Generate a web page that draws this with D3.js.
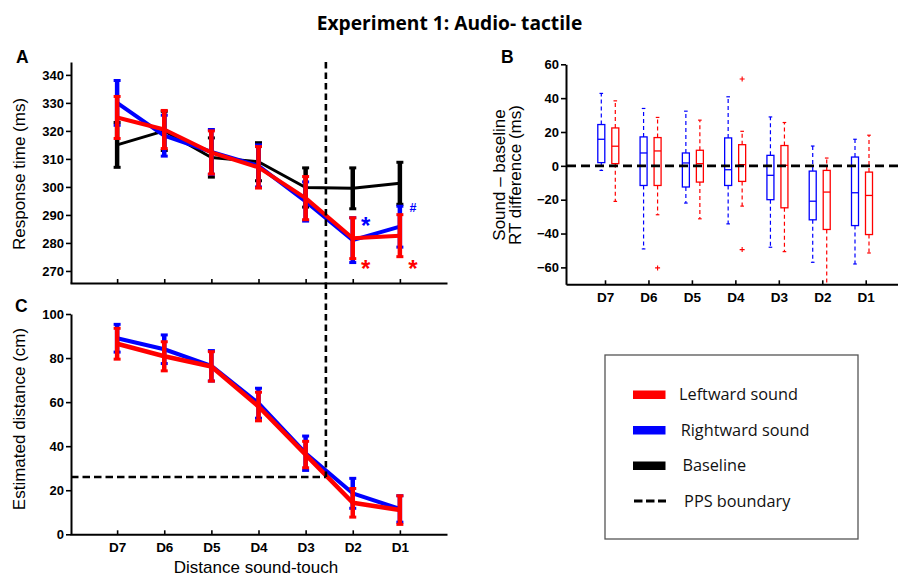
<!DOCTYPE html>
<html><head><meta charset="utf-8">
<script src="https://cdn.jsdelivr.net/npm/d3@7"></script>
<style>body{margin:0;background:#fff}</style>
</head><body>
<svg id="chart" width="898" height="576"></svg>
<script>
// ---------- DATA ----------
const categories = ["D7","D6","D5","D4","D3","D2","D1"];

// Panel A: response time (ms), mean and error
const rtLeft      = [324.8, 320.5, 312.3, 307.0, 296.0, 281.7, 282.6];
const rtLeftErr   = [7.5, 6.8, 7.7, 7.4, 7.7, 7.3, 7.5];
const rtRight     = [330.0, 318.3, 312.5, 307.5, 294.8, 281.0, 285.8];
const rtRightErr  = [8.0, 7.3, 8.0, 7.5, 7.0, 8.0, 7.3];
const rtBase      = [315.0, 320.0, 310.5, 309.0, 299.8, 299.5, 301.3];
const rtBaseErr   = [8.0, 7.0, 7.0, 6.8, 7.0, 7.3, 7.5];
const rtTicks     = [270, 280, 290, 300, 310, 320, 330, 340];
const annotations = [
  {cat: "D2", label: "*", color: "#0000ff", at: 288.0},
  {cat: "D2", label: "*", color: "#ff0000", at: 272.5},
  {cat: "D1", label: "#", color: "#0000ff", at: 292.5},
  {cat: "D1", label: "*", color: "#ff0000", at: 272.8}
];

// Panel C: estimated distance (cm)
const distLeft     = [86.5, 80.8, 76.2, 58.0, 36.2, 14.3, 11.0];
const distLeftErr  = [7.0, 6.6, 6.7, 6.5, 6.0, 6.5, 6.5];
const distRight    = [89.0, 84.0, 76.5, 59.5, 36.8, 18.6, 11.5];
const distRightErr = [6.3, 6.5, 6.9, 6.8, 7.8, 6.8, 6.0];
const distTicks    = [0, 20, 40, 60, 80, 100];
const ppsDistance  = 26;     // cm, horizontal PPS boundary
const ppsPosition  = 5.43;   // category-axis position of PPS boundary (between D3 and D2)

// Panel B: box plots (sound - baseline), [lowWhisker, q1, median, q3, highWhisker]
const boxRight = [
  [-2.7, 1.9, 15.7, 24.4, 42.8],
  [-49.1, -11.6, 7.6, 17.1, 33.9],
  [-22.0, -12.5, 1.7, 7.6, 32.3],
  [-34.3, -11.6, -2.3, 16.5, 40.8],
  [-48.1, -20.0, -5.6, 6.2, 28.9],
  [-57.0, -31.9, -20.9, -3.1, 11.7],
  [-58.0, -35.3, -15.9, 5.2, 15.7]
];
const boxLeft = [
  [-21.0, 1.3, 11.6, 22.4, 38.4],
  [-28.9, -11.6, 8.8, 16.7, 28.6],
  [-31.3, -9.6, 1.3, 9.2, 27.0],
  [-23.8, -9.2, 0.7, 12.5, 20.4],
  [-50.7, -24.8, 0.3, 12.0, 25.6],
  [-75.0, -37.6, -15.5, -2.7, 4.6],
  [-51.5, -40.6, -17.5, -3.7, 18.1]
];
const outliersLeft = [
  {cat: "D6", v: -60.3},
  {cat: "D4", v: 51.3},
  {cat: "D4", v: -49.5}
];
const diffTicks = [-60, -40, -20, 0, 20, 40, 60];

const legendItems = [
  {label: "Leftward sound", color: "#ff0000", type: "bar"},
  {label: "Rightward sound", color: "#0000ff", type: "bar"},
  {label: "Baseline", color: "#000000", type: "bar"},
  {label: "PPS boundary", color: "#000000", type: "dash"}
];

// ---------- DRAWING ----------
const svg = d3.select("#chart");
const SANS = "'Liberation Sans', Arial, sans-serif";
const CAL = "'Open Sans', 'Noto Sans', sans-serif";
const RED = "#ff0000", BLUE = "#0000ff", BLACK = "#000000";

// scales
const xA = d3.scaleLinear().domain([0, 8]).range([70, 447]);      // category i -> i+1
const yA = d3.scaleLinear().domain([265.7, 344.6]).range([283, 62]);
const yC = d3.scaleLinear().domain([0, 100]).range([534.3, 314]);
const xB = d3.scaleLinear().domain([-0.8976, 6.743]).range([566, 898]);
const xBox = d3.scaleLinear().domain([0, 6]).range([608.3, 862]);
const yB = d3.scaleLinear().domain([-70, 60]).range([284.3, 64.3]).clamp(true);

function styleAxis(g, fontSize) {
  g.select(".domain").attr("stroke", BLACK).attr("stroke-width", 2);
  g.selectAll(".tick line").attr("stroke", BLACK).attr("stroke-width", 1.6);
  g.selectAll(".tick text").attr("font-family", SANS).attr("font-weight", "bold")
    .attr("font-size", fontSize).attr("fill", BLACK);
}

// Title
svg.append("text").attr("x", 449.5).attr("y", 30).attr("text-anchor", "middle")
  .attr("font-family", CAL).attr("font-weight", "bold").attr("font-size", 19.2)
  .text("Experiment 1: Audio- tactile");

// Panel letters
[["A", 16, 62.7], ["B", 501, 63], ["C", 15, 312]].forEach(([t, x, y]) => {
  svg.append("text").attr("x", x).attr("y", y).attr("font-family", SANS)
    .attr("font-weight", "bold").attr("font-size", 17.5).text(t);
});

// ---- Panel A ----
const gA = svg.append("g");
const axAy = gA.append("g").attr("transform", "translate(71,0)")
  .call(d3.axisLeft(yA).tickValues(rtTicks).tickSize(5).tickSizeOuter(0).tickPadding(2));
styleAxis(axAy, 13);
const axAx = gA.append("g").attr("transform", "translate(0,283)")
  .call(d3.axisBottom(xA).tickValues(d3.range(1, 8)).tickSize(-4).tickSizeOuter(0).tickFormat(""));
styleAxis(axAx, 13);

svg.append("text").attr("transform", "translate(25,174) rotate(-90)").attr("text-anchor", "middle")
  .attr("font-family", SANS).attr("font-size", 17).text("Response time (ms)");

function drawSeries(g, y, vals, errs, color, lw, ew) {
  const idx = d3.range(vals.length);
  g.append("path").datum(idx)
    .attr("d", d3.line().x(i => xA(i + 1)).y(i => y(vals[i])))
    .attr("fill", "none").attr("stroke", color).attr("stroke-width", lw)
    .attr("stroke-linejoin", "round");
  const eg = g.append("g").attr("stroke", color);
  idx.forEach(i => {
    const cx = xA(i + 1), lo = y(vals[i] - errs[i]), hi = y(vals[i] + errs[i]);
    eg.append("line").attr("x1", cx).attr("x2", cx).attr("y1", lo).attr("y2", hi).attr("stroke-width", ew);
    [lo, hi].forEach(yy => eg.append("line").attr("x1", cx - 3.5).attr("x2", cx + 3.5)
      .attr("y1", yy).attr("y2", yy).attr("stroke-width", 3));
  });
}
drawSeries(gA, yA, rtBase, rtBaseErr, BLACK, 3, 4.5);
drawSeries(gA, yA, rtRight, rtRightErr, BLUE, 4, 4.5);
drawSeries(gA, yA, rtLeft, rtLeftErr, RED, 4, 4.5);

annotations.forEach(a => {
  const i = categories.indexOf(a.cat);
  const fs = a.label === "*" ? 24 : 12.5;
  const off = a.label === "*" ? 0.56 * fs : 0.36 * fs;
  svg.append("text").attr("x", xA(i + 1) + 13).attr("y", yA(a.at) + off)
    .attr("text-anchor", "middle").attr("font-family", SANS).attr("font-weight", "bold")
    .attr("font-size", fs).attr("fill", a.color).text(a.label);
});

// ---- Panel C ----
const gC = svg.append("g");
const axCy = gC.append("g").attr("transform", "translate(71,0)")
  .call(d3.axisLeft(yC).tickValues(distTicks).tickSize(5).tickSizeOuter(0).tickPadding(2));
styleAxis(axCy, 13);
const axCx = gC.append("g").attr("transform", "translate(0,534.3)")
  .call(d3.axisBottom(xA).tickValues(d3.range(1, 8)).tickSize(-4).tickSizeOuter(0)
    .tickPadding(8).tickFormat(d => categories[d - 1]));
styleAxis(axCx, 13.5);

svg.append("text").attr("transform", "translate(25,419) rotate(-90)").attr("text-anchor", "middle")
  .attr("font-family", SANS).attr("font-size", 17).text("Estimated distance (cm)");
svg.append("text").attr("x", 256).attr("y", 573).attr("text-anchor", "middle")
  .attr("font-family", SANS).attr("font-size", 17).text("Distance sound-touch");

drawSeries(gC, yC, distRight, distRightErr, BLUE, 4, 4.5);
drawSeries(gC, yC, distLeft, distLeftErr, RED, 4.5, 4.5);

// PPS boundary lines
svg.append("line").attr("x1", xA(ppsPosition)).attr("x2", xA(ppsPosition))
  .attr("y1", yA.range()[1]).attr("y2", yC(ppsDistance))
  .attr("stroke", BLACK).attr("stroke-width", 2.6).attr("stroke-dasharray", "6.5,4");
svg.append("line").attr("x1", 71).attr("x2", xA(ppsPosition))
  .attr("y1", yC(ppsDistance)).attr("y2", yC(ppsDistance))
  .attr("stroke", BLACK).attr("stroke-width", 2.6).attr("stroke-dasharray", "7.5,4");

// ---- Panel B ----
const gB = svg.append("g");
function drawBoxes(boxes, color, dx) {
  const g = gB.append("g").attr("stroke", color).attr("fill", "none");
  boxes.forEach((b, i) => {
    const cx = xBox(i) + dx, w = 7;
    const [lw, q1, med, q3, hw] = b;
    g.append("line").attr("x1", cx).attr("x2", cx).attr("y1", yB(q3)).attr("y2", yB(hw))
      .attr("stroke-width", 1.2).attr("stroke-dasharray", "4,3");
    g.append("line").attr("x1", cx).attr("x2", cx).attr("y1", yB(q1)).attr("y2", yB(lw))
      .attr("stroke-width", 1.2).attr("stroke-dasharray", "4,3");
    [lw, hw].forEach(v => { if (v >= yB.domain()[0]) g.append("line").attr("x1", cx - 1.8).attr("x2", cx + 1.8)
      .attr("y1", yB(v)).attr("y2", yB(v)).attr("stroke-width", 1.2); });
    g.append("rect").attr("x", cx - w / 2).attr("y", yB(q3)).attr("width", w)
      .attr("height", yB(q1) - yB(q3)).attr("stroke-width", 1.3);
    g.append("line").attr("x1", cx - w / 2).attr("x2", cx + w / 2).attr("y1", yB(med)).attr("y2", yB(med))
      .attr("stroke-width", 1.3);
  });
}
drawBoxes(boxRight, BLUE, -7);
drawBoxes(boxLeft, RED, 7);
outliersLeft.forEach(o => {
  const cx = xBox(categories.indexOf(o.cat)) + 7, cy = yB(o.v);
  gB.append("path").attr("d", `M${cx - 2.5},${cy}H${cx + 2.5}M${cx},${cy - 2.5}V${cy + 2.5}`)
    .attr("stroke", RED).attr("stroke-width", 1.1);
});
// zero line
gB.append("line").attr("x1", 567).attr("x2", 898).attr("y1", yB(0)).attr("y2", yB(0))
  .attr("stroke", BLACK).attr("stroke-width", 2.6).attr("stroke-dasharray", "9,5");

const axBy = gB.append("g").attr("transform", "translate(566,0)")
  .call(d3.axisLeft(yB).tickValues(diffTicks).tickSize(5).tickSizeOuter(0).tickPadding(2)
    .tickFormat(d => d < 0 ? "\u2212" + Math.abs(d) : String(d)));
styleAxis(axBy, 13);
const axBx = gB.append("g").attr("transform", "translate(0,284.3)")
  .call(d3.axisBottom(xB).tickValues(d3.range(0, 7)).tickSize(-4).tickSizeOuter(0)
    .tickPadding(8).tickFormat(d => categories[d]));
styleAxis(axBx, 13.5);

const labB = svg.append("text").attr("transform", "translate(505,175) rotate(-90)")
  .attr("text-anchor", "middle").attr("font-family", SANS).attr("font-size", 17);
labB.append("tspan").attr("x", 0).attr("dy", 0).text("Sound \u2013 baseline");
labB.append("tspan").attr("x", 0).attr("dy", 16).text("RT difference (ms)");

// ---- Legend ----
const lg = svg.append("g");
lg.append("rect").attr("x", 605).attr("y", 355).attr("width", 253).attr("height", 184)
  .attr("fill", "#fff").attr("stroke", "#555").attr("stroke-width", 1.3);
const legendY = d3.scalePoint().domain(legendItems.map(d => d.label)).range([394.5, 501]);
legendItems.forEach((it, k) => {
  const cy = legendY(it.label);
  if (it.type === "bar") {
    lg.append("rect").attr("x", 633).attr("y", cy - 4).attr("width", 32.5).attr("height", 8.5).attr("fill", it.color);
  } else {
    lg.append("line").attr("x1", 634).attr("x2", 666).attr("y1", cy).attr("y2", cy)
      .attr("stroke", it.color).attr("stroke-width", 3).attr("stroke-dasharray", "8.5,3.5");
  }
  lg.append("text").attr("x", 679 + k * 1.7).attr("y", cy + 5.5).attr("font-family", CAL)
    .attr("font-size", 16.3).attr("fill", "#111").text(it.label);
});
</script>
</body></html>
